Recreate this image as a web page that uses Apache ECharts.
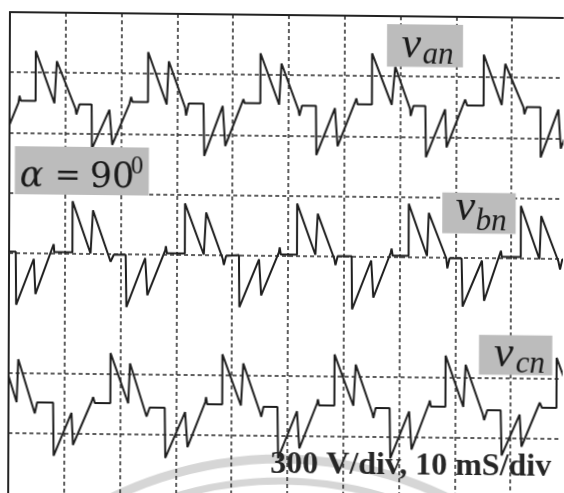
<!DOCTYPE html>
<html>
<head>
<meta charset="utf-8">
<script src="https://cdn.jsdelivr.net/npm/echarts@6/dist/echarts.min.js"></script>
<style>
html,body{margin:0;padding:0;background:#fff;overflow:hidden;}
#c{width:564px;height:493px;transform:matrix(1,0.0106,-0.0037,1,0,0);transform-origin:0 0;}
</style>
</head>
<body>
<div id="c"></div>
<script>
// time in ms (10 ms/div), voltage in V (300 V/div), each channel relative to its own zero
const vAn = [
[0,-120],[1.58,-10],[1.77,25],[2.0,0],
[4.66,0],[4.66,250],[8.03,-10],[8.44,200],[11.79,-35],[11.97,-65],[12.51,-15],[14.7,-15],[14.78,-235],[17.89,-40],[18.42,-215],[21.47,-10],[21.77,25],[22.0,0],
[24.8,0],[24.8,250],[28.15,-10],[28.51,205],[31.45,-25],[31.63,-65],[32.1,-5],[34.75,-5],[34.91,-265],[38.19,-15],[38.67,-215],[41.9,20],[42.0,25],[42.1,0],
[44.93,0],[44.93,250],[48.3,-5],[48.7,200],[51.75,-30],[51.95,-60],[52.4,-10],[54.9,-10],[55.0,-255],[58.3,-20],[58.8,-210],[61.95,15],[62.15,30],[62.35,0],
[64.93,0],[64.93,255],[68.48,0],[69.09,190],[71.77,-20],[71.88,-55],[72.37,-5],[74.5,-5],[74.64,-260],[78.05,-20],[78.33,-210],[81.63,30],[82.0,0],
[84.95,0],[84.95,255],[88.19,5],[88.8,210],[92.08,-5],[92.26,-40],[92.67,-5],[95.13,-5],[95.2,-255],[98.35,-15],[98.8,-210],[100,-120]
];
const vBn = [
[0,0],[1.2,0],[1.3,-265],[4.44,-35],[4.75,-210],[8.0,40],[8.1,0],
[11.35,0],[11.35,255],[14.6,-5],[15.02,210],[17.89,-20],[18.19,-45],[18.78,-10],[20.9,-10],[21.06,-270],[24.4,-25],[24.8,-210],[28.0,15],[28.1,35],[28.3,0],
[31.5,0],[31.5,250],[34.9,-5],[35.3,205],[38.3,-25],[38.5,-55],[38.9,-10],[41.2,-5],[41.3,-265],[44.8,-25],[45.2,-205],[48.36,10],[48.5,35],[48.7,0],
[51.6,0],[51.6,255],[54.9,0],[55.3,205],[58.3,-20],[58.5,-50],[58.9,-5],[61.4,-5],[61.5,-270],[64.9,-25],[65.3,-210],[68.4,15],[68.55,35],[68.75,0],
[71.6,0],[71.6,260],[74.9,0],[75.2,215],[78.35,-10],[78.55,-60],[78.95,-10],[81.1,-10],[81.3,-250],[84.75,-20],[85.15,-220],[88.15,30],[88.3,0],
[91.7,0],[91.7,255],[95.05,-10],[95.35,205],[98.45,-20],[98.75,-60],[99.15,-10],[100,-10]
];
const vCn = [
[0,130],[1.45,0],[1.72,215],[4.71,-55],[5.13,0],[7.99,0],[8.12,-265],[11.29,-50],[11.58,-210],[14.87,5],[15.16,30],[15.47,0],
[18.25,0],[18.25,250],[21.45,0],[21.75,200],[24.75,-65],[25.3,-20],[28.0,-20],[28.13,-270],[31.65,-40],[32.1,-215],[35.25,10],[35.4,35],[35.6,0],
[38.3,0],[38.3,250],[41.65,-5],[42.05,205],[45.1,-40],[45.3,-60],[45.7,-10],[48.2,-10],[48.35,-265],[51.7,-30],[52.15,-215],[55.3,10],[55.45,30],[55.65,0],
[58.4,0],[58.4,255],[61.8,0],[62.2,205],[65.2,-35],[65.4,-60],[65.8,-10],[68.3,-10],[68.45,-260],[71.8,-25],[72.25,-215],[75.35,15],[75.5,30],[75.7,0],
[78.3,0],[78.3,255],[81.5,0],[81.9,210],[85.0,-35],[85.25,-65],[85.8,-15],[88.2,-15],[88.4,-240],[91.6,-35],[91.95,-195],[95.2,25],[95.6,0],
[98.2,0],[98.2,250],[100,115]
];
// horizontal graticule lines (V from screen centre) that are visible
const hGridLines = [900, 600, 300, 0, -600, -900];
const channelNames = ['v_an', 'v_bn', 'v_cn'];
const scaleText = '300 V/div, 10 mS/div';
const alphaText = ['α', '=', '90', '0'];

// layout: screen position of each channel's zero (V from screen centre)
const chZero = [758, 5, -746];

const chart = echarts.init(document.getElementById('c'), null, {renderer: 'canvas'});
const dash = {type: [4, 3], color: '#2a2a2a', width: 1.5};
const traceStyle = {color: '#1e1e1e', width: 2};

function chAxis(z) {
  return {type: 'value', show: false, min: -1200 - z, max: 1200 - z, splitLine: {show: false}};
}

function lbl(x, y, text, font, align) {
  return {type: 'text', x: x, y: y, z: 110,
    style: {text: text, font: font, fill: '#1a1a1a',
      textAlign: align || 'left', align: align || 'left',
      textVerticalAlign: 'middle', verticalAlign: 'middle'}};
}
function box(x, y, w, h) {
  return {type: 'rect', z: 100, shape: {x: x, y: y, width: w, height: h}, style: {fill: '#bcbcbc'}};
}

const serifI = (s) => 'italic ' + s + 'px "Liberation Serif"';

chart.setOption({
  animation: false,
  backgroundColor: '#ffffff',
  grid: {left: 10, top: 12, width: 553, height: 481, show: false, outerBoundsMode: 'none', containLabel: false},
  xAxis: {
    type: 'value', min: 0, max: 99.1, interval: 10, position: 'top',
    axisLine: {show: true, onZero: false, lineStyle: {color: '#222', width: 2}},
    axisTick: {show: false}, axisLabel: {show: false},
    splitLine: {show: true, showMaxLine: false, lineStyle: dash}
  },
  yAxis: [
    {type: 'value', min: -1200, max: 1200, interval: 300,
     axisLine: {show: true, onZero: false, lineStyle: {color: '#222', width: 2}},
     axisTick: {show: false}, axisLabel: {show: false}, splitLine: {show: false}},
    chAxis(chZero[0]), chAxis(chZero[1]), chAxis(chZero[2])
  ],
  series: [
    {type: 'line', yAxisIndex: 0, data: [], silent: true, z: 1,
     markLine: {silent: true, symbol: 'none', label: {show: false}, lineStyle: dash,
       animation: false, data: hGridLines.map(v => ({yAxis: v}))}},
    {name: channelNames[0], type: 'line', yAxisIndex: 1, data: vAn, showSymbol: false, lineStyle: traceStyle, z: 3},
    {name: channelNames[1], type: 'line', yAxisIndex: 2, data: vBn, showSymbol: false, lineStyle: traceStyle, z: 3},
    {name: channelNames[2], type: 'line', yAxisIndex: 3, data: vCn, showSymbol: false, lineStyle: traceStyle, z: 3}
  ],
  graphic: [
    {type: 'arc', z: -1, silent: true, shape: {cx: 285, cy: 840, r: 384, startAngle: -2.2, endAngle: -0.95},
     style: {stroke: '#d6d6d6', lineWidth: 9, fill: 'none'}},
    {type: 'arc', z: -1, silent: true, shape: {cx: 285, cy: 840, r: 362, startAngle: -2.2, endAngle: -0.95},
     style: {stroke: '#d6d6d6', lineWidth: 7, fill: 'none'}},
    box(15.5, 146, 134, 48),
    lbl(20.5, 177.4, alphaText[0], 'italic 35px "DejaVu Serif"'),
    lbl(68.5, 177, alphaText[1], '31px "DejaVu Serif"', 'center'),
    lbl(90.5, 177.4, alphaText[2], '35px "DejaVu Serif"'),
    lbl(131.5, 165.2, alphaText[3], '25px "Liberation Serif"'),
    box(387.2, 19.9, 76, 42.7),
    lbl(401.7, 41.5, 'v', serifI(44)),
    lbl(422.7, 50.9, 'an', serifI(31)),
    box(443.1, 187.8, 73.4, 40.6),
    lbl(456.5, 203.5, 'v', serifI(44)),
    lbl(476.5, 217, 'bn', serifI(31)),
    box(480.3, 329.8, 73.3, 39.6),
    lbl(495.3, 349.1, 'v', serifI(44)),
    lbl(517, 358.9, 'cn', serifI(31)),
    {type: 'text', x: 412.5, y: 461.5, z: 120,
     style: {text: scaleText, font: 'bold 32px "Liberation Serif"', fill: '#262626',
       textAlign: 'center', align: 'center', textVerticalAlign: 'middle', verticalAlign: 'middle'}}
  ]
});
</script>
</body>
</html>
